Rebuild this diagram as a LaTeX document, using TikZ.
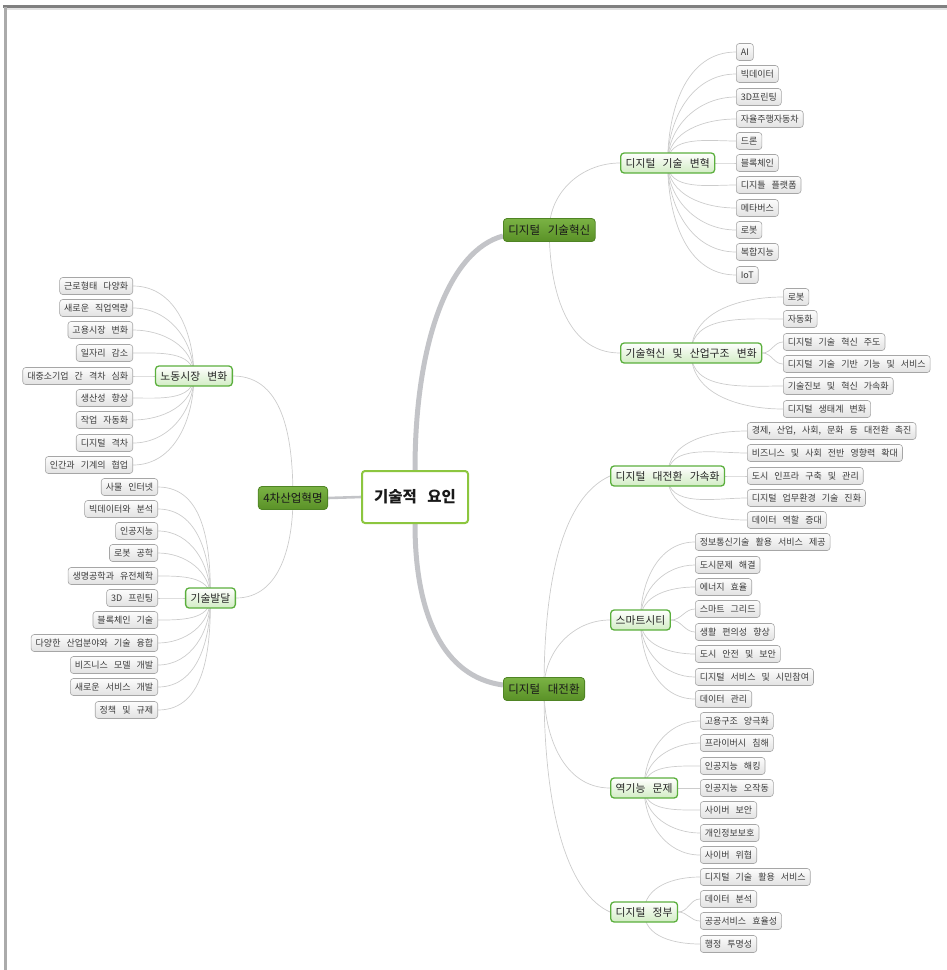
\documentclass[tikz,border=0pt]{standalone}
\usepackage{fontspec}
\setmainfont{Noto Sans CJK KR}[WordSpace=3]
\usetikzlibrary{backgrounds}

\definecolor{linkgray}{HTML}{CCCCCC}
\definecolor{trunkgray}{HTML}{C3C4C8}
\definecolor{leafline}{HTML}{A6A6A6}
\definecolor{leaftop}{HTML}{FCFCFC}
\definecolor{leafbot}{HTML}{E2E2E2}
\definecolor{leaftext}{HTML}{3C3C3C}
\definecolor{subline}{HTML}{5BAF3D}
\definecolor{subbot}{HTML}{D2ECC4}
\definecolor{maintop}{HTML}{7AB244}
\definecolor{mainbot}{HTML}{5A9127}
\definecolor{mainline}{HTML}{4F8424}
\definecolor{rootline}{HTML}{8CC63F}
\definecolor{frametop}{HTML}{808080}
\definecolor{frameleft}{HTML}{ABABAB}
\definecolor{frameshade}{HTML}{E2E2E2}

\tikzset{
  leaf/.style={draw=leafline, line width=0.6pt, rounded corners=3pt,
    top color=leaftop, bottom color=leafbot, text=leaftext,
    font=\fontsize{9}{10}\selectfont, inner xsep=4.5pt, inner ysep=1pt,
    minimum height=17pt},
  subbox/.style={draw=subline, line width=1.3pt, rounded corners=3.5pt,
    top color=white, bottom color=subbot, text=black!85,
    font=\fontsize{10.8}{12}\selectfont, inner xsep=5pt, inner ysep=1pt,
    minimum height=20pt},
  mainbox/.style={draw=mainline, line width=0.8pt, rounded corners=3.5pt,
    top color=maintop, bottom color=mainbot, text=black!90,
    font=\fontsize{11.5}{13}\selectfont, inner xsep=5pt, inner ysep=1pt,
    minimum height=23pt},
  rootbox/.style={draw=rootline, line width=2pt, rounded corners=3pt,
    fill=white, text=black!90, font=\fontsize{15.5}{17}\selectfont\bfseries,
    minimum width=106pt, minimum height=52pt},
  link/.style={draw=linkgray, line width=0.7pt},
  trunk/.style={draw=trunkgray, line width=5pt},
  stem/.style={draw=trunkgray, line width=2.6pt}
}

% leaves to the right of a parent: text / y / start anchor / out angle
\newcommand\leafsright[3]{%
  \foreach \txt/\yy/\anc/\oo [count=\i] in {#3}{%
    \node[leaf, anchor=west] (#1-\i) at (#2,-\yy) {\txt};
    \begin{pgfonlayer}{background}
      \draw[link] (#1.\anc) to[out=\oo, in=180] (#1-\i.west);
    \end{pgfonlayer}
  }}
% leaves to the left of a parent
\newcommand\leafsleft[3]{%
  \foreach \txt/\yy/\anc/\oo [count=\i] in {#3}{%
    \node[leaf, anchor=east] (#1-\i) at (#2,-\yy) {\txt};
    \begin{pgfonlayer}{background}
      \draw[link] (#1.\anc) to[out=\oo, in=0] (#1-\i.east);
    \end{pgfonlayer}
  }}

\begin{document}
\begin{tikzpicture}[x=1pt, y=1pt]
  \useasboundingbox (0,0) rectangle (947,-970);

  % page frame
  \draw[frameshade, line width=1.5pt] (5,-9.2) -- (947,-9.2);
  \draw[frametop, line width=2.6pt] (3,-6.6) -- (947,-6.6);
  \draw[frameleft, line width=3pt] (5.6,-7) -- (5.6,-970);

  % centre and main branches
  \node[rootbox] (root) at (415,-497) {기술적 요인};
  \node[mainbox, anchor=west] (b1) at (503,-230) {디지털 기술혁신};
  \node[mainbox, anchor=west] (b2) at (503,-689) {디지털 대전환};
  \node[mainbox, anchor=east] (b3) at (328,-498) {4차산업혁명};

  % second level
  \node[subbox, anchor=west] (s11) at (620,-163) {디지털 기술 변혁};
  \node[subbox, anchor=west] (s12) at (620,-353) {기술혁신 및 산업구조 변화};
  \node[subbox, anchor=west] (s21) at (610,-476) {디지털 대전환 가속화};
  \node[subbox, anchor=west] (s22) at (610,-620) {스마트시티};
  \node[subbox, anchor=west] (s23) at (610,-788) {역기능 문제};
  \node[subbox, anchor=west] (s24) at (610,-912) {디지털 정부};
  \node[subbox, anchor=east] (s31) at (233,-376) {노동시장 변화};
  \node[subbox, anchor=east] (s32) at (236,-598) {기술발달};

  \begin{pgfonlayer}{background}
    \draw[trunk] (root.north) .. controls +(0,130) and +(-53,-14) .. ([yshift=-6pt]b1.west);
    \draw[trunk] (root.south) .. controls +(0,-90) and +(-60,8) .. ([yshift=4pt]b2.west);
    \draw[stem] (root.west) -- (b3.east);
    \draw[link] (b1.center) to[out=90, in=180] (s11.west);
    \draw[link] (b1.center) to[out=-90, in=180] (s12.west);
    \draw[link] (b2.center) .. controls +(0,130) and +(-40,-18) .. (s21.west);
    \draw[link] (b2.center) to[out=90, in=180] (s22.west);
    \draw[link] (b2.center) to[out=-90, in=180] (s23.west);
    \draw[link] (b2.center) .. controls +(0,-130) and +(-40,18) .. (s24.west);
    \draw[link] (b3.center) to[out=90, in=0] (s31.east);
    \draw[link] (b3.center) to[out=-90, in=0] (s32.east);
  \end{pgfonlayer}

  % leaves
  \leafsright{s11}{736}{AI/52/center/90, 빅데이터/74/center/90,
    3D프린팅/97/center/90, 자율주행자동차/119/center/90, 드론/141/center/90,
    블록체인/163/east/0, 디지틀 플랫폼/185/center/-90, 메타버스/208/center/-90,
    로봇/230/center/-90, 복합지능/252/center/-90, IoT/275/center/-90}
  \leafsright{s12}{783}{로봇/297/center/90, 자동화/319/center/90,
    디지털 기술 혁신 주도/342/east/0, 디지털 기술 기반 기능 및 서비스/364/east/0,
    기술진보 및 혁신 가속화/386/center/-90, 디지털 생태계 변화/409/center/-90}
  \leafsright{s21}{747}{{경제, 산업, 사회, 문화 등 대전환 촉진}/431/center/90,
    비즈니스 및 사회 전반 영향력 확대/453/center/90,
    도시 인프라 구축 및 관리/476/east/0,
    디지털 업무환경 기술 진화/498/center/-90, 데이터 역할 증대/520/center/-90}
  \leafsright{s22}{695}{정보통신기술 활용 서비스 제공/542/center/90,
    도시문제 해결/565/center/90, 에너지 효율/587/center/90,
    스마트 그리드/609/east/0, 생활 편의성 향상/632/east/0,
    도시 안전 및 보안/654/center/-90, 디지털 서비스 및 시민참여/677/center/-90,
    데이터 관리/699/center/-90}
  \leafsright{s23}{700}{고용구조 양극화/721/center/90, 프라이버시 침해/743/center/90,
    인공지능 해킹/766/center/90, 인공지능 오작동/788/east/0,
    사이버 보안/810/center/-90, 개인정보보호/833/center/-90,
    사이버 위협/855/center/-90}
  \leafsright{s24}{700}{디지털 기술 활용 서비스/877/center/90,
    데이터 분석/899/east/0, 공공서비스 효율성/921/east/0,
    행정 투명성/944/center/-90}
  \leafsleft{s31}{133}{근로형태 다양화/286/center/90, 새로운 직업역량/308/center/90,
    고용시장 변화/330/center/90, 일자리 감소/353/center/90,
    대중소기업 간 격차 심화/376/west/180, 생산성 향상/398/center/-90,
    작업 자동화/420/center/-90, 디지털 격차/443/center/-90,
    인간과 기계의 협업/465/center/-90}
  \leafsleft{s32}{158}{사물 인터넷/487/center/90, 빅데이터와 분석/509/center/90,
    인공지능/531/center/90, 로봇 공학/553/center/90,
    생명공학과 유전체학/576/center/90, 3D 프린팅/598/west/180,
    블록체인 기술/620/center/-90, 다양한 산업분야와 기술 융합/643/center/-90,
    비즈니스 모델 개발/665/center/-90, 새로운 서비스 개발/687/center/-90,
    정책 및 규제/710/center/-90}
\end{tikzpicture}
\end{document}
